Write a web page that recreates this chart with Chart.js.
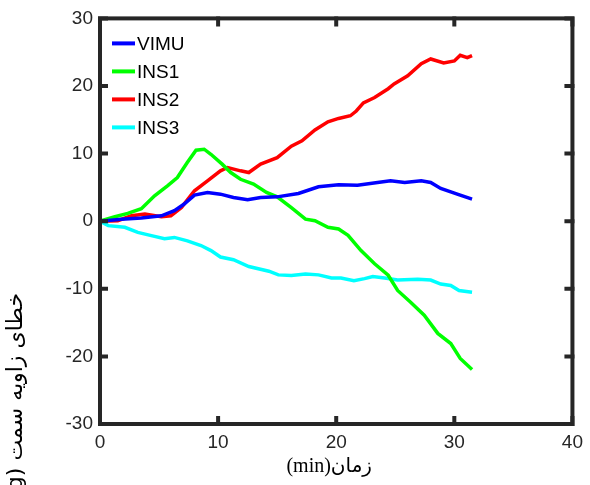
<!DOCTYPE html>
<html>
<head>
<meta charset="utf-8">
<script src="https://cdn.jsdelivr.net/npm/chart.js@4.4.1/dist/chart.umd.min.js"></script>
<style>
  html, body { margin: 0; padding: 0; background: #fff; }
  #wrap { width: 590px; height: 485px; }
</style>
</head>
<body>
<div id="wrap"><canvas id="chart" width="590" height="485"></canvas></div>
<script>
// heading error vs time
const seriesNames = ['VIMU', 'INS1', 'INS2', 'INS3'];
const seriesColors = ['#0000ff', '#00ff00', '#ff0000', '#00ffff'];

const vimuT = [0, 1.8, 3.5, 5.2, 6.3, 7.1, 8.0, 9.1, 10.2, 11.3, 12.5, 13.6, 15.0, 16.8, 18.5, 20.2, 21.8, 23.5, 24.6, 25.8, 27.2, 28.0, 28.85, 30.25, 31.5];
const vimuV = [0, 0.3, 0.47, 0.8, 1.55, 2.5, 3.86, 4.25, 4.0, 3.5, 3.17, 3.5, 3.6, 4.1, 5.1, 5.4, 5.33, 5.73, 5.97, 5.73, 5.97, 5.73, 4.85, 4.0, 3.27];

const ins1T = [0, 1.26, 2.35, 3.5, 4.62, 5.71, 6.55, 7.39, 8.13, 8.82, 9.39, 10.34, 11.07, 11.9, 13.0, 14.1, 15.0, 16.2, 17.4, 18.2, 19.3, 20.2, 21.0, 22.1, 23.25, 24.4, 25.2, 26.3, 27.45, 28.6, 29.7, 30.5, 31.5];
const ins1V = [0, 0.66, 1.15, 1.84, 3.76, 5.24, 6.46, 8.67, 10.5, 10.65, 9.9, 8.44, 7.2, 6.2, 5.5, 4.25, 3.6, 2.0, 0.3, 0.07, -0.9, -1.15, -2.1, -4.35, -6.3, -8.0, -10.25, -11.98, -13.9, -16.6, -18.1, -20.3, -21.95];

const ins2T = [0, 1.5, 2.66, 3.8, 5.2, 6.0, 6.9, 8.0, 9.1, 10.2, 10.8, 11.9, 12.6, 13.6, 15.0, 16.2, 17.1, 18.2, 19.3, 20.2, 21.2, 21.7, 22.3, 23.25, 24.4, 24.9, 26.05, 27.2, 28.0, 29.1, 30.0, 30.5, 31.1, 31.5];
const ins2V = [0, 0.07, 0.8, 1.06, 0.66, 0.8, 2.04, 4.5, 5.97, 7.45, 7.94, 7.45, 7.2, 8.44, 9.4, 11.1, 11.9, 13.5, 14.7, 15.2, 15.6, 16.3, 17.5, 18.3, 19.6, 20.3, 21.5, 23.3, 24.0, 23.4, 23.7, 24.55, 24.2, 24.5];

const ins3T = [0, 0.7, 2.1, 3.2, 4.35, 5.46, 6.3, 7.4, 8.55, 9.4, 10.2, 11.3, 12.6, 14.3, 15.1, 16.2, 17.4, 18.5, 19.6, 20.4, 21.5, 22.4, 23.1, 24.1, 25.2, 26.9, 28.0, 28.85, 29.7, 30.4, 31.5];
const ins3V = [0, -0.66, -0.9, -1.65, -2.14, -2.6, -2.4, -2.9, -3.6, -4.35, -5.3, -5.7, -6.7, -7.4, -7.94, -8.04, -7.8, -7.94, -8.4, -8.4, -8.8, -8.5, -8.2, -8.4, -8.7, -8.6, -8.7, -9.3, -9.5, -10.25, -10.5];

const xTicks = [0, 10, 20, 30, 40];
const yTicks = [-30, -20, -10, 0, 10, 20, 30];

const xTitle = 'زمان(min)';
const yTitle = 'خطای زاویه سمت (deg)';

const allT = [vimuT, ins1T, ins2T, ins3T];
const allV = [vimuV, ins1V, ins2V, ins3V];

const AXIS_COLOR = '#262626';
const TICK_FONT = { family: "'Liberation Sans', Arial, sans-serif", size: 19 };

const datasets = seriesNames.map((name, i) => ({
  label: name,
  data: allT[i].map((t, k) => ({ x: t, y: allV[i][k] })),
  borderColor: seriesColors[i],
  backgroundColor: seriesColors[i],
  borderWidth: 3.5,
  pointRadius: 0,
  tension: 0,
  fill: false,
}));

// frame box with inward ticks on all four sides (matlab style)
const framePlugin = {
  id: 'frame',
  afterDatasetsDraw(chart) {
    const { ctx, chartArea: a, scales } = chart;
    ctx.save();
    ctx.strokeStyle = AXIS_COLOR;
    ctx.lineWidth = 4;
    ctx.lineCap = 'square';
    ctx.strokeRect(a.left, a.top, a.right - a.left, a.bottom - a.top);
    const len = 6;
    ctx.beginPath();
    xTicks.forEach(v => {
      const px = scales.x.getPixelForValue(v);
      ctx.moveTo(px, a.bottom); ctx.lineTo(px, a.bottom - len);
      ctx.moveTo(px, a.top); ctx.lineTo(px, a.top + len);
    });
    yTicks.forEach(v => {
      const py = scales.y.getPixelForValue(v);
      ctx.moveTo(a.left, py); ctx.lineTo(a.left + len, py);
      ctx.moveTo(a.right, py); ctx.lineTo(a.right - len, py);
    });
    ctx.stroke();
    ctx.restore();
  },
};

// legend drawn inside the plot, top-left, no box
const legendPlugin = {
  id: 'insideLegend',
  afterDraw(chart) {
    const { ctx, chartArea: a } = chart;
    ctx.save();
    ctx.font = "19px 'Liberation Sans', Arial, sans-serif";
    ctx.textBaseline = 'middle';
    ctx.textAlign = 'left';
    chart.data.datasets.forEach((ds, i) => {
      const y = a.top + 25 + i * 28;
      ctx.strokeStyle = ds.borderColor;
      ctx.lineWidth = 4;
      ctx.beginPath();
      ctx.moveTo(a.left + 12, y);
      ctx.lineTo(a.left + 35, y);
      ctx.stroke();
      ctx.fillStyle = '#000';
      ctx.fillText(ds.label, a.left + 37, y + 1);
    });
    ctx.restore();
  },
};

// axis titles (persian, rtl) drawn by hand
const titlesPlugin = {
  id: 'axisTitles',
  afterDraw(chart) {
    const { ctx, chartArea: a } = chart;
    ctx.save();
    ctx.fillStyle = '#000';
    ctx.direction = 'rtl';
    ctx.textBaseline = 'middle';
    ctx.font = "20px 'Liberation Serif', 'DejaVu Sans', serif";
    ctx.textAlign = 'center';
    ctx.fillText(xTitle, (a.left + a.right) / 2 - 7, 467);

    ctx.translate(16, 293);
    ctx.rotate(-Math.PI / 2);
    ctx.textAlign = 'right';
    ctx.font = "22px 'DejaVu Sans', 'Noto Sans', sans-serif";
    ctx.fillText(yTitle, 0, 0);
    ctx.restore();
  },
};

new Chart(document.getElementById('chart'), {
  type: 'line',
  data: { datasets },
  options: {
    responsive: false,
    animation: false,
    layout: { padding: { left: 0, top: 17, right: 14, bottom: 0 } },
    plugins: { legend: { display: false }, tooltip: { enabled: false } },
    scales: {
      x: {
        type: 'linear',
        min: 0, max: 40,
        afterBuildTicks: s => { s.ticks = xTicks.map(v => ({ value: v })); },
        afterFit: s => { s.height = 61; },
        grid: { display: false, drawTicks: false },
        border: { display: false },
        ticks: { color: AXIS_COLOR, font: TICK_FONT, padding: 7, maxRotation: 0 },
      },
      y: {
        min: -30, max: 30,
        afterBuildTicks: s => { s.ticks = yTicks.map(v => ({ value: v })); },
        afterFit: s => { s.width = 100; },
        grid: { display: false, drawTicks: false },
        border: { display: false },
        ticks: { color: AXIS_COLOR, font: TICK_FONT, padding: 7 },
      },
    },
  },
  plugins: [framePlugin, legendPlugin, titlesPlugin],
});
</script>
</body>
</html>
